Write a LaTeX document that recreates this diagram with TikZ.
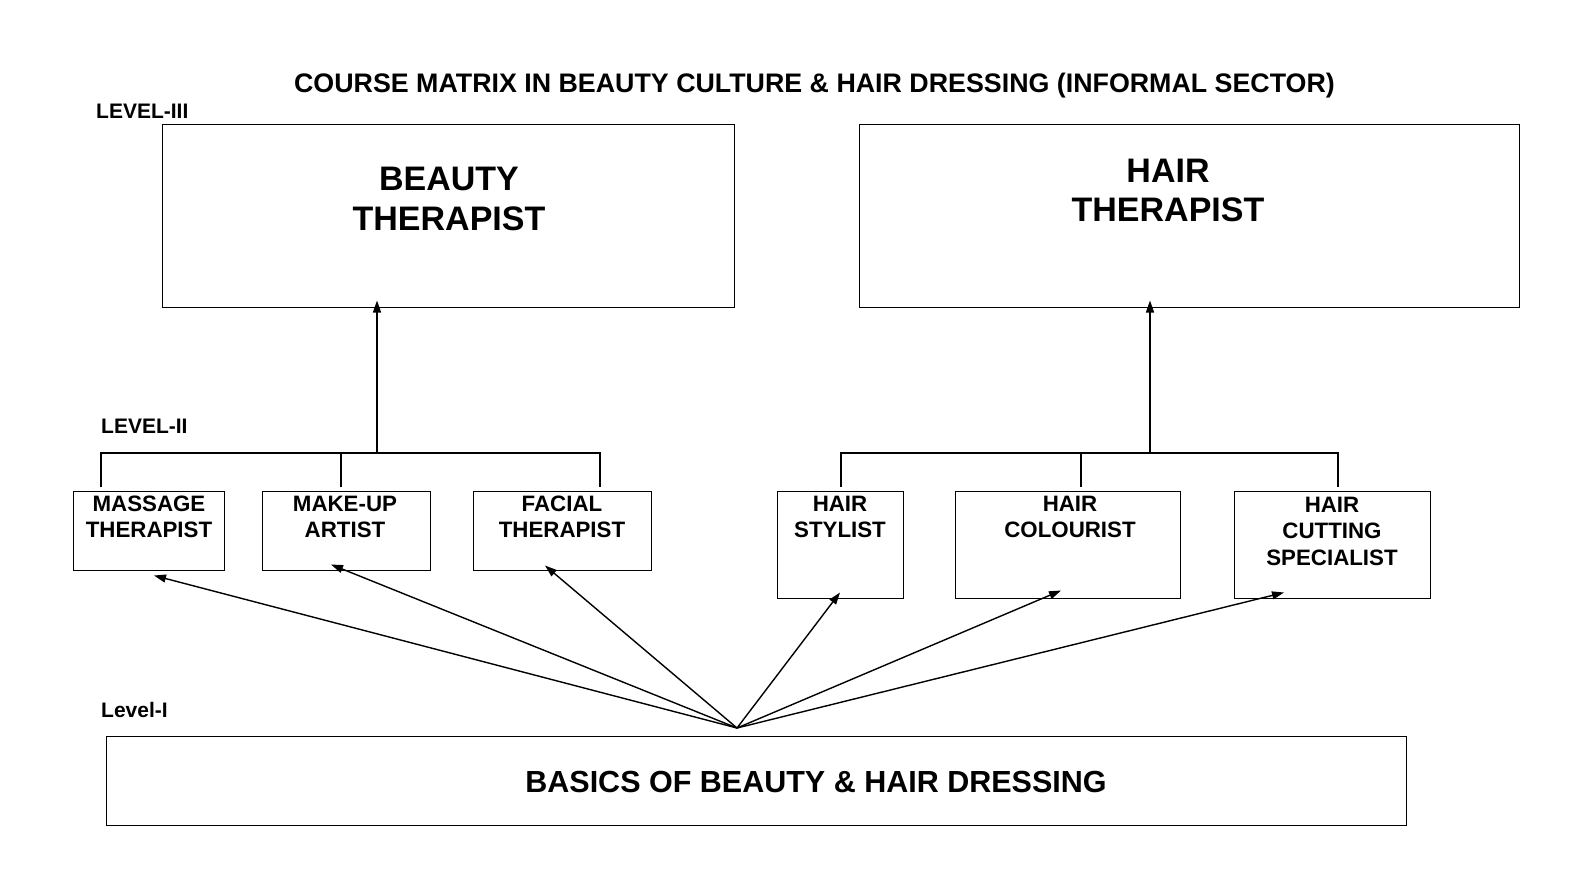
\documentclass[tikz,border=0pt]{standalone}
\usepackage{fontspec}
\setmainfont{Liberation Sans}
\usetikzlibrary{arrows.meta,calc}
\tikzset{
  box/.style={draw, line width=1pt, rectangle, inner sep=0pt},
  lbl/.style={font=\bfseries, inner sep=0pt, align=center},
  small/.style={lbl, font=\fontsize{22.3}{26.5}\selectfont\bfseries},
  big/.style={lbl, font=\fontsize{34}{39.5}\selectfont\bfseries},
  lvl/.style={inner sep=0pt, anchor=west, font=\fontsize{21}{24}\selectfont\bfseries},
  link/.style={line width=1.2pt},
  arr/.style={line width=1.4pt, -{Triangle[length=12pt,width=8pt]}}
}
\begin{document}
\begin{tikzpicture}[x=1pt,y=-1pt]
\path[use as bounding box, fill=white] (0,0) rectangle (1588,895);

\node[lbl, font=\fontsize{26.8}{30}\selectfont\bfseries] (title) at (814.5,86) {COURSE MATRIX IN BEAUTY CULTURE \& HAIR DRESSING (INFORMAL SECTOR)};

\node[lvl] (l3) at (96,111) {LEVEL-III};
\node[lvl] (l2) at (101,426) {LEVEL-II};
\node[lvl] (l1) at (101,710) {Level-I};

% level III
\node[box, minimum width=572pt, minimum height=183pt] (beauty) at (448,215.5) {};
\node[big] (beautyt) at (449,199) {BEAUTY\\THERAPIST};
\node[box, minimum width=660pt, minimum height=183pt] (hair) at (1189,215.5) {};
\node[big] (hairt) at (1168,190.5) {HAIR\\THERAPIST};

% level II
\node[box, minimum width=151pt, minimum height=79pt] (massage) at (148.5,530.5) {};
\node[small] (massaget) at (149,517) {MASSAGE\\THERAPIST};
\node[box, minimum width=168pt, minimum height=79pt] (makeup) at (346,530.5) {};
\node[small] (makeupt) at (345,517) {MAKE-UP\\ARTIST};
\node[box, minimum width=178pt, minimum height=79pt] (facial) at (562,530.5) {};
\node[small] (facialt) at (562,517) {FACIAL\\THERAPIST};

\node[box, minimum width=126pt, minimum height=107pt] (stylist) at (840,544.5) {};
\node[small] (stylistt) at (840,517) {HAIR\\STYLIST};
\node[box, minimum width=225pt, minimum height=107pt] (colour) at (1067.5,544.5) {};
\node[small] (colourt) at (1070,517) {HAIR\\COLOURIST};
\node[box, minimum width=196pt, minimum height=107pt] (cutting) at (1332,544.5) {};
\node[small] (cuttingt) at (1332,531) {HAIR\\CUTTING\\SPECIALIST};

% level I
\node[box, minimum width=1300pt, minimum height=89pt] (basics) at (756,780.5) {};
\node[lbl, font=\fontsize{30.5}{34}\selectfont\bfseries] (basicst) at (816,782) {BASICS OF BEAUTY \& HAIR DRESSING};

% brackets
\coordinate (lb1) at (101,487);
\coordinate (lb2) at (341,487);
\coordinate (lb3) at (600,487);
\coordinate (ljoin) at (377,453);
\draw[link] (lb1) |- (ljoin) -| (lb3);
\draw[link] (lb2) -- (lb2 |- ljoin);
\draw[arr] (ljoin) -- ([yshift=7pt]beauty.south -| ljoin);

\coordinate (rb1) at (841,487);
\coordinate (rb2) at (1081,487);
\coordinate (rb3) at (1338,487);
\coordinate (rjoin) at (1150,453);
\draw[link] (rb1) |- (rjoin) -| (rb3);
\draw[link] (rb2) -- (rb2 |- rjoin);
\draw[arr] (rjoin) -- ([yshift=7pt]hair.south -| rjoin);

% fan
\coordinate (fan) at (737,728);
\draw[arr] (fan) -- ($(massage.south)+(5.5,5)$);
\draw[arr] (fan) -- ($(makeup.south)+(-15,-6)$);
\draw[arr] (fan) -- ($(facial.south)+(-17,-5)$);
\draw[arr] (fan) -- ($(stylist.south)+(0,-6)$);
\draw[arr] (fan) -- ($(colour.south)+(-6.5,-8)$);
\draw[arr] (fan) -- ($(cutting.south)+(-48,-6)$);
\end{tikzpicture}
\end{document}
